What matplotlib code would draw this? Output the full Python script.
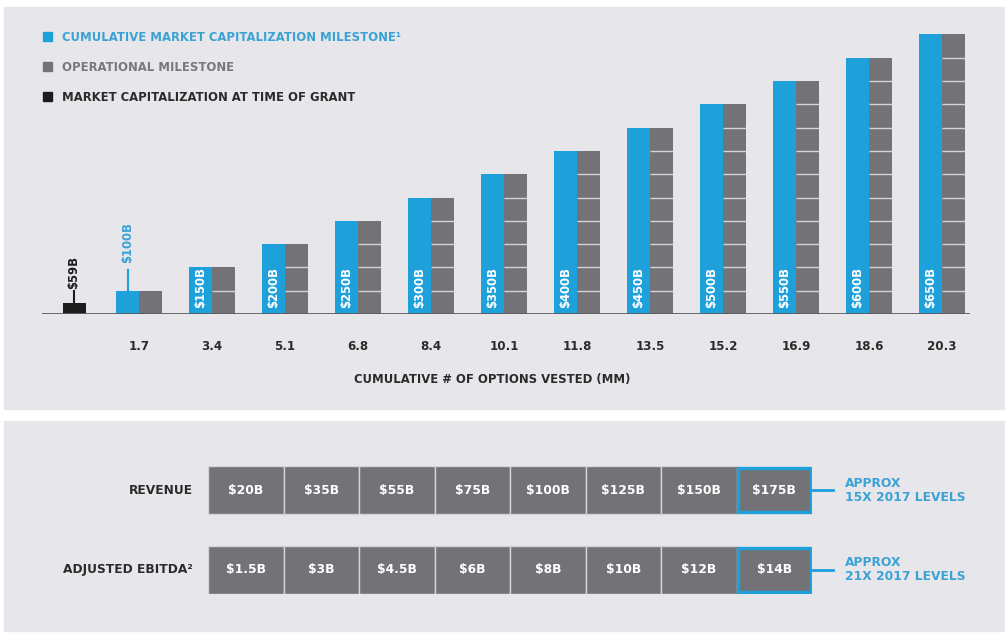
import matplotlib
matplotlib.use("Agg")
import matplotlib.pyplot as plt
from matplotlib.patches import Rectangle, Patch

# ---- data ----
options_vested = ["1.7", "3.4", "5.1", "6.8", "8.4", "10.1", "11.8", "13.5", "15.2", "16.9", "18.6", "20.3"]
market_cap = ["$100B", "$150B", "$200B", "$250B", "$300B", "$350B", "$400B", "$450B",
              "$500B", "$550B", "$600B", "$650B"]
milestones_count = [1, 2, 3, 4, 5, 6, 7, 8, 9, 10, 11, 12]
grant_label = "$59B"
grant_height = 0.47

revenue = ["$20B", "$35B", "$55B", "$75B", "$100B", "$125B", "$150B", "$175B"]
ebitda = ["$1.5B", "$3B", "$4.5B", "$6B", "$8B", "$10B", "$12B", "$14B"]
row_labels = ["REVENUE", "ADJUSTED EBITDA²"]
row_notes = ["APPROX\n15X 2017 LEVELS", "APPROX\n21X 2017 LEVELS"]

legend_labels = ["CUMULATIVE MARKET CAPITALIZATION MILESTONE¹",
                 "OPERATIONAL MILESTONE",
                 "MARKET CAPITALIZATION AT TIME OF GRANT"]

BLUE = "#1ea0da"
BLUE_TXT = "#3aa2d4"
GRAY = "#737377"
BLACK = "#1c1c1c"
BG = "#e7e7eb"
TXT = "#2e2a2a"
SEP = "#d4d4d8"

plt.rcParams['font.family'] = ['DejaVu Sans']
W, H = 1005, 635
fig = plt.figure(figsize=(W / 100, H / 100), dpi=100)
fig.patch.set_facecolor("white")

def fx(x):
    return x / W

def fy(y):
    return 1 - y / H

# panel backgrounds
fig.add_artist(Rectangle((fx(4), fy(409)), fx(1001), 402 / H, transform=fig.transFigure,
                         color=BG, zorder=0))
fig.add_artist(Rectangle((fx(4), fy(631)), fx(1001), 210 / H, transform=fig.transFigure,
                         color=BG, zorder=0))

# ---- top chart ----
unit = 23.3
ax = fig.add_axes([fx(42), fy(314), fx(970 - 42), (314 - 20) / H])
ax.set_facecolor("none")
ax.set_xlim(-0.329, 12.384)
ax.set_ylim(0, 294 / unit)
for s in ax.spines.values():
    s.set_visible(False)
ax.set_yticks([])

bw = 0.315
pos = list(range(1, len(milestones_count) + 1))
ax.bar([p - bw / 2 for p in pos], milestones_count, width=bw, color=BLUE, zorder=2)
ax.bar([p + bw / 2 for p in pos], milestones_count, width=bw, color=GRAY, zorder=2)
for p, n in zip(pos, milestones_count):
    for k in range(1, n):
        ax.plot([p + 0.004, p + bw], [k, k], color=SEP, lw=1.0, zorder=3,
                solid_capstyle="butt")

# grant bar
gx = 0.11
ax.bar([gx], [grant_height], width=bw, color=BLACK, zorder=2)
ax.plot([gx, gx], [grant_height, grant_height + 0.5], color=BLACK, lw=1.5, zorder=3)
ax.text(gx, grant_height + 0.62, grant_label, rotation=90, ha="center", va="bottom",
        color=BLACK, fontsize=8.4, fontweight="bold")

# labels in the blue bars
for p, n, lab in zip(pos, milestones_count, market_cap):
    if n == 1:
        ax.plot([p - bw / 2] * 2, [n, n + 0.9], color=BLUE, lw=1.5, zorder=3)
        ax.text(p - bw / 2, n + 1.2, lab, rotation=90, ha="center", va="bottom",
                color=BLUE_TXT, fontsize=8.4, fontweight="bold")
    else:
        ax.text(p - bw / 2, 0.25, lab, rotation=90, ha="center", va="bottom",
                color="white", fontsize=8.4, fontweight="bold", zorder=4)

ax.axhline(0, color="#5c5c60", lw=1.3, zorder=4)
ax.set_xticks(pos)
ax.set_xticklabels(options_vested, fontsize=8.6, color=TXT, fontweight="bold")
ax.tick_params(axis="x", length=0, pad=19)
fig.text(fx(492), fy(380), "CUMULATIVE # OF OPTIONS VESTED (MM)", ha="center", va="center",
         fontsize=8.4, fontweight="bold", color=TXT)

handles = [Patch(color=BLUE), Patch(color=GRAY), Patch(color=BLACK)]
leg = ax.legend(handles, legend_labels, loc="upper left",
                bbox_to_anchor=(fx(43), fy(31)), bbox_transform=fig.transFigure,
                frameon=False, borderpad=0, borderaxespad=0, handlelength=0.8,
                handleheight=0.8, handletextpad=0.85, labelspacing=1.45,
                prop={"size": 8.4, "weight": "bold"})
for t, c in zip(leg.get_texts(), [BLUE_TXT, "#79797d", TXT]):
    t.set_color(c)

# ---- bottom table ----
bx = fig.add_axes([fx(208), fy(594), fx(812 - 208), 128 / H])
bx.set_xlim(0, 8)
bx.set_ylim(-0.302, 1.302)
bx.axis("off")
bh = 0.604
for row_y, vals, lab, note in zip([1, 0], [revenue, ebitda], row_labels, row_notes):
    n = len(vals)
    bx.barh([row_y] * (n - 1), [1] * (n - 1), left=list(range(n - 1)), height=bh,
            color=GRAY, edgecolor=SEP, linewidth=1.0)
    bx.barh([row_y], [1 - 0.03], left=[n - 1 + 0.015], height=bh - 0.045,
            color=GRAY, edgecolor=BLUE, linewidth=2.4, zorder=3)
    for i, v in enumerate(vals):
        bx.text(i + 0.5, row_y, v, ha="center", va="center", color="white",
                fontsize=8.8, fontweight="bold", zorder=4)
    bx.text(-0.2, row_y, lab, ha="right", va="center", color=TXT,
            fontsize=8.8, fontweight="bold")
    bx.plot([n, n + 0.278], [row_y, row_y], color=BLUE, lw=2.0, clip_on=False)
    bx.text(n + 0.437, row_y, note, ha="left", va="center", color=BLUE_TXT,
            fontsize=8.8, fontweight="bold", linespacing=1.1)

fig.savefig("out.png", dpi=100, facecolor="white")
